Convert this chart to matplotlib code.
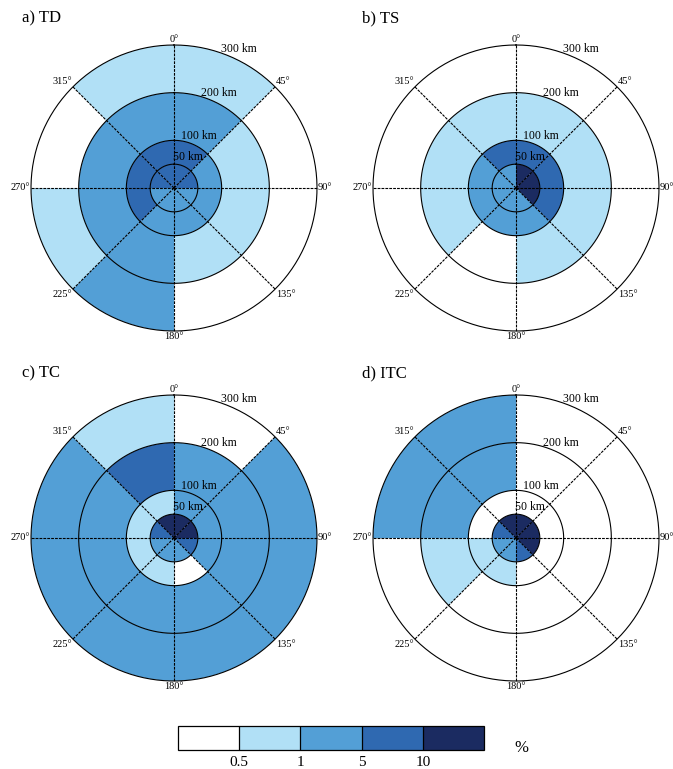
import numpy as np
import matplotlib
matplotlib.use('Agg')
import matplotlib.pyplot as plt
from matplotlib.colors import ListedColormap, BoundaryNorm
import matplotlib.cm as cm

plt.rcParams['font.family'] = ['Liberation Serif', 'DejaVu Serif']

# ring edges (km) and sector starts (deg, clockwise from north)
ring_edges = [0, 50, 100, 200, 300]
sector_starts = [0, 45, 90, 135, 180, 225, 270, 315]

# colour classes: 0 <0.5, 1 0.5-1, 2 1-5, 3 5-10, 4 >10 (%)
# rows = rings (0-50, 50-100, 100-200, 200-300), cols = sectors
td = [[3, 3, 2, 2, 2, 2, 3, 3],
      [3, 2, 2, 2, 2, 3, 3, 3],
      [2, 1, 1, 1, 2, 2, 2, 2],
      [1, 0, 0, 0, 2, 1, 0, 1]]
ts = [[4, 4, 4, 2, 2, 2, 2, 2],
      [3, 3, 3, 2, 2, 2, 2, 3],
      [1, 1, 1, 1, 0, 1, 1, 1],
      [0, 0, 0, 0, 0, 0, 0, 0]]
tc = [[4, 4, 3, 2, 2, 2, 3, 4],
      [2, 2, 2, 0, 1, 1, 1, 1],
      [2, 2, 2, 2, 2, 2, 2, 3],
      [0, 2, 2, 2, 2, 2, 2, 1]]
itc = [[4, 4, 4, 3, 2, 2, 3, 4],
       [0, 0, 0, 0, 1, 1, 0, 0],
       [0, 0, 0, 0, 0, 1, 2, 2],
       [0, 0, 0, 0, 0, 0, 2, 2]]

titles = ['a) TD', 'b) TS', 'c) TC', 'd) ITC']
panels = [td, ts, tc, itc]

colors = ['#ffffff', '#b1e0f6', '#539fd6', '#2f69b1', '#1b2b61']
bounds = [0, 0.5, 1, 5, 10, 20]
tick_vals = [0.5, 1, 5, 10]
cmap = ListedColormap(colors)
norm = BoundaryNorm(bounds, cmap.N)

# alignment of the direction labels round the outer circle
label_align = {0: ('center', 'bottom'), 45: ('left', 'bottom'),
               90: ('left', 'center'), 135: ('left', 'top'),
               180: ('center', 'top'), 225: ('right', 'top'),
               270: ('right', 'center'), 315: ('right', 'bottom')}

fig = plt.figure(figsize=(6.73, 7.69), dpi=100)
W, H = 673, 769
R = 143
centers = [(174, 188), (516, 188), (174, 538), (516, 538)]
title_pos = [(22, 18), (362, 18), (22, 373), (362, 373)]

for data, title, (cx, cy), (tx, ty) in zip(panels, titles, centers, title_pos):
    ax = fig.add_axes([(cx - R) / W, 1 - (cy + R) / H, 2 * R / W, 2 * R / H],
                      projection='polar')
    ax.set_theta_zero_location('N')
    ax.set_theta_direction(-1)
    ax.set_ylim(0, 300)
    ax.axis('off')

    for i in range(4):
        for j in range(8):
            ax.bar(np.deg2rad(sector_starts[j] + 22.5),
                   ring_edges[i + 1] - ring_edges[i],
                   width=np.pi / 4, bottom=ring_edges[i],
                   color=colors[data[i][j]], edgecolor='none', linewidth=0)

    th = np.linspace(0, 2 * np.pi, 400)
    for r in ring_edges[1:]:
        ax.plot(th, np.full_like(th, r), color='k', lw=0.8, clip_on=False)
    for a in sector_starts:
        ax.plot([np.deg2rad(a)] * 2, [0, 300], color='k', lw=0.8,
                ls=(0, (2.5, 1)), clip_on=False)
        ha, va = label_align[a]
        ax.text(np.deg2rad(a), 302, f'{a}°', ha=ha, va=va, fontsize=7.5)
    for r in ring_edges[1:]:
        ax.text(np.deg2rad(25), r + 21, f'{r} km', ha='center', va='center',
                fontsize=8.5)

    fig.text(tx / W, 1 - ty / H, title, ha='left', va='center', fontsize=12)

cax = fig.add_axes([178 / W, 1 - 750 / H, 306 / W, 24 / H])
sm = cm.ScalarMappable(cmap=cmap, norm=norm)
cb = fig.colorbar(sm, cax=cax, orientation='horizontal', ticks=tick_vals,
                  spacing='uniform', drawedges=True)
cb.ax.set_xticklabels(['0.5', '1', '5', '10'])
cb.ax.minorticks_off()
cb.ax.tick_params(length=0, labelsize=11, pad=4)
cb.outline.set_linewidth(0.9)
cb.dividers.set_linewidth(0.9)
fig.text(521 / W, 1 - 748 / H, '%', ha='center', va='center', fontsize=12)

fig.savefig('out.png', dpi=100)
